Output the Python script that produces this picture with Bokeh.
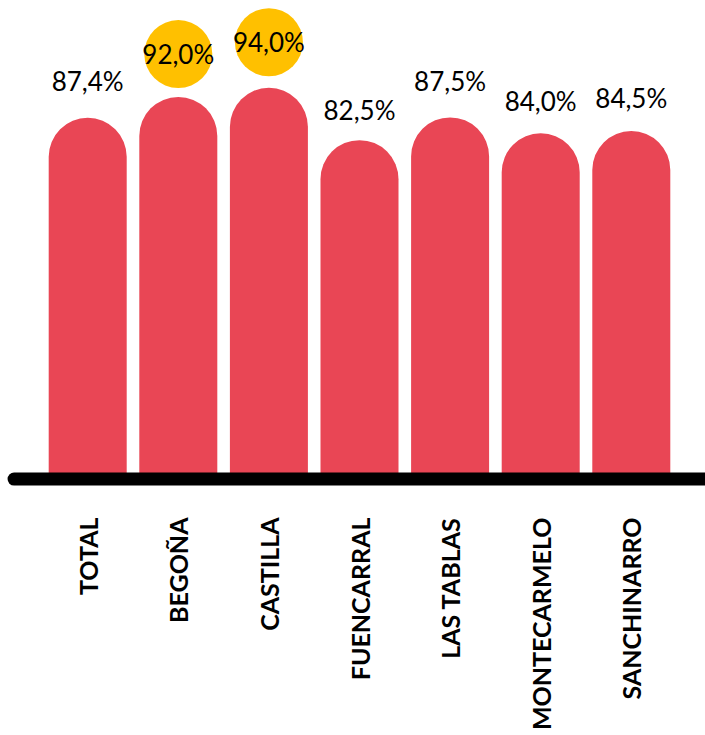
import math
from bokeh.plotting import figure
from bokeh.models import Range1d, FixedTicker, ColumnDataSource
from bokeh.core.properties import value
from bokeh.embed import file_html
from bokeh.resources import INLINE

categories = ["TOTAL", "BEGOÑA", "CASTILLA", "FUENCARRAL", "LAS TABLAS", "MONTECARMELO", "SANCHINARRO"]
values = [87.4, 92.0, 94.0, 82.5, 87.5, 84.0, 84.5]
highlighted = ["BEGOÑA", "CASTILLA"]

BAR_COLOR = "#E94655"
HIGHLIGHT_COLOR = "#FFC000"

xs = list(range(len(categories)))
labels = [f"{v:.1f}".replace(".", ",") + "%" for v in values]
label_y = [1.299 * v - 18.09 for v in values]

src = ColumnDataSource(dict(x=xs, top=values, label=labels, ly=label_y))
hx = [i for i, c in enumerate(categories) if c in highlighted]
hy = [label_y[i] for i in hx]

p = figure(frame_width=705, frame_height=490,
           x_range=Range1d(-0.9625, 6.819), y_range=Range1d(5.49, 113.19),
           output_backend="svg", toolbar_location=None,
           y_axis_location=None, min_border=0)
p.outline_line_color = None
p.xgrid.visible = False
p.ygrid.visible = False
p.background_fill_color = "white"
p.border_fill_color = "white"

p.vbar(x="x", top="top", bottom=8, width=0.861, source=src,
       fill_color=BAR_COLOR, line_color=None, border_radius=(39, 39, 0, 0))

p.line(x=[-0.813, 7.5], y=[8.0, 8.0], line_color="black", line_width=13, line_cap="round")

p.scatter(x=hx, y=hy, size=68, marker="circle", fill_color=HIGHLIGHT_COLOR, line_color=None)

p.text(x="x", y="ly", text="label", source=src, text_align="center", text_baseline="middle",
       text_font=value("Lato"), text_font_size="26px", text_color="black")

ax = p.xaxis[0]
ax.ticker = FixedTicker(ticks=xs)
ax.major_label_overrides = {i: c for i, c in enumerate(categories)}
ax.major_label_orientation = math.pi / 2
ax.axis_line_color = None
ax.major_tick_line_color = None
ax.minor_tick_line_color = None
ax.major_tick_out = 0
ax.major_tick_in = 0
ax.major_label_standoff = 27
ax.major_label_text_font = "Lato"
ax.major_label_text_font_style = "bold"
ax.major_label_text_font_size = "25px"
ax.major_label_text_color = "black"

open("out.html", "w").write(file_html(p, INLINE))
